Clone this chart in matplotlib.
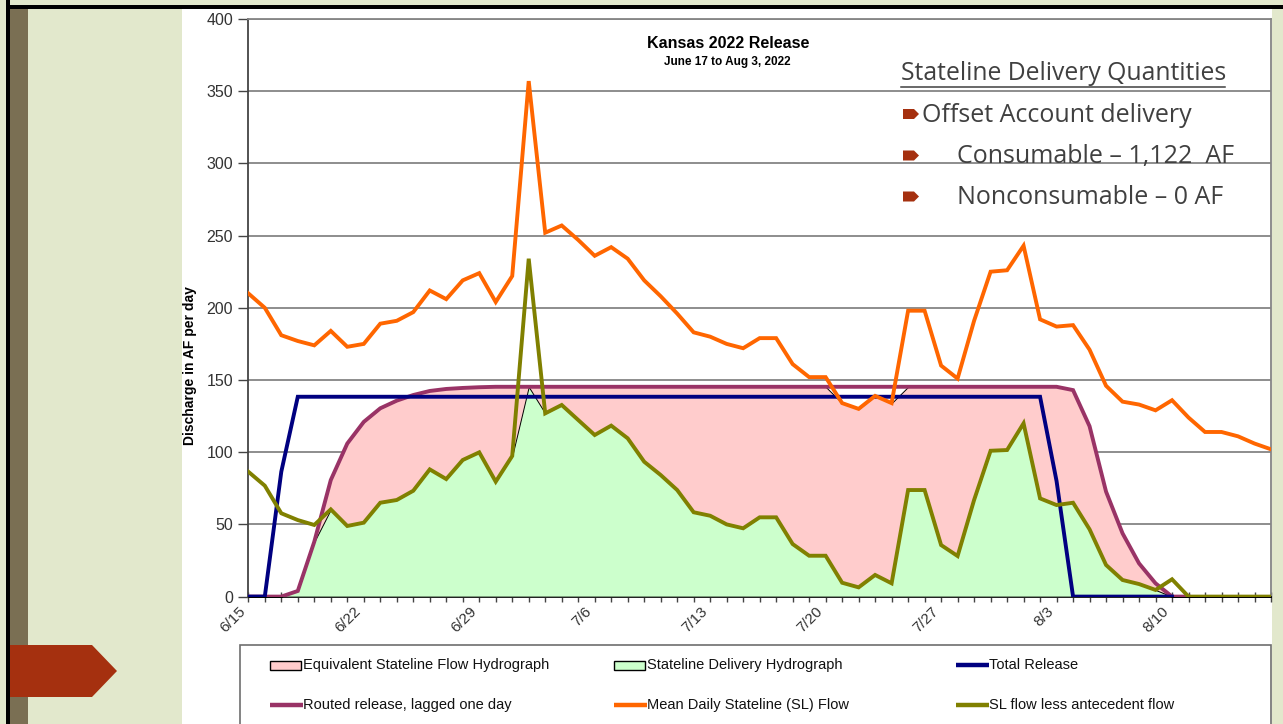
import numpy as np
import pandas as pd
import matplotlib
matplotlib.use("Agg")
import matplotlib.pyplot as plt
from matplotlib.patches import Rectangle, Polygon
from matplotlib.lines import Line2D

# ---------------- data ----------------
dates = pd.date_range("2022-06-15", "2022-08-16", freq="D")
tick_labels = [f"{d.month}/{d.day}" for d in dates[::7]]

mean_daily_sl_flow = [210, 200, 181, 177, 174, 184, 173, 175, 189, 191,
                      197, 212, 206, 219, 224, 204, 222, 357, 252, 257,
                      247, 236, 242, 234, 219, 208, 196, 183, 180, 175,
                      172, 179, 179, 161, 152, 152, 134, 130, 139, 134,
                      198, 198, 160, 151, 191, 225, 226, 243, 192, 187,
                      188, 171, 146, 135, 133, 129, 136, 124, 114, 114,
                      111, 106, 102]

sl_less_antecedent = [86.5, 76.8, 57.7, 53, 49.6, 60.4, 48.9, 51.2, 65, 66.9,
                      73.3, 88.1, 81.4, 94.6, 99.9, 79.6, 97.4, 234, 126.9, 132.7,
                      122.3, 111.9, 118.4, 109.6, 93.4, 84.2, 73.8, 58.4, 56, 50,
                      47.3, 54.9, 54.9, 36.4, 28.3, 28.3, 9.6, 6.4, 15, 9.2,
                      73.8, 73.8, 35.7, 28.1, 66.9, 101, 101.5, 120, 68, 63.4,
                      65, 46.6, 21.9, 11.5, 8.7, 4.6, 12, 0, 0, 0,
                      0, 0, 0]

nan = np.nan
total_release = [0, 0, 86.5, 138.4, 138.4, 138.4, 138.4, 138.4, 138.4, 138.4,
                 138.4, 138.4, 138.4, 138.4, 138.4, 138.4, 138.4, 138.4, 138.4, 138.4,
                 138.4, 138.4, 138.4, 138.4, 138.4, 138.4, 138.4, 138.4, 138.4, 138.4,
                 138.4, 138.4, 138.4, 138.4, 138.4, 138.4, 138.4, 138.4, 138.4, 138.4,
                 138.4, 138.4, 138.4, 138.4, 138.4, 138.4, 138.4, 138.4, 138.4, 80,
                 0, 0, 0, 0, 0, 0, 0, nan, nan, nan,
                 nan, nan, nan]

routed_release = [0, 0, 0, 3.9, 38, 80.7, 106, 121, 130.4, 135.7,
                  139.6, 142.4, 143.8, 144.5, 145, 145.3, 145.3, 145.3, 145.3, 145.3,
                  145.3, 145.3, 145.3, 145.3, 145.3, 145.3, 145.3, 145.3, 145.3, 145.3,
                  145.3, 145.3, 145.3, 145.3, 145.3, 145.3, 145.3, 145.3, 145.3, 145.3,
                  145.3, 145.3, 145.3, 145.3, 145.3, 145.3, 145.3, 145.3, 145.3, 145.3,
                  143, 118, 72.7, 43.8, 23, 9.2, 0, 0, nan, nan,
                  nan, nan, nan]

orange_v = np.array(mean_daily_sl_flow, dtype=float)
olive_v = np.array(sl_less_antecedent, dtype=float)
navy_v = np.array(total_release, dtype=float)
purple_v = np.array(routed_release, dtype=float)

equivalent_sl = np.minimum(np.nan_to_num(purple_v), orange_v)
delivery = np.minimum(olive_v, equivalent_sl)

# ---------------- figure ----------------
W, H = 1283, 724
fig = plt.figure(figsize=(W / 100, H / 100), dpi=100)
fig.patch.set_facecolor("#E2E8CC")


def fp(x, y):
    return (x / W, 1 - y / H)


def frect(x0, y0, x1, y1, **kw):
    r = Rectangle(fp(x0, y1), (x1 - x0) / W, (y1 - y0) / H,
                  transform=fig.transFigure, **kw)
    fig.patches.append(r)
    return r


# slide decorations (below the axes)
frect(6, 0, 10, H, facecolor="black", edgecolor="none", zorder=-5)
frect(6, 5, W, 8.5, facecolor="black", edgecolor="none", zorder=-5)
frect(10, 8.5, 28, H, facecolor="#7A6F53", edgecolor="none", zorder=-5)
frect(182, 8.5, 1272, H, facecolor="white", edgecolor="none", zorder=-5)
fig.patches.append(Polygon([fp(10, 645), fp(92, 645), fp(117, 671), fp(92, 697), fp(10, 697)],
                           closed=True, transform=fig.transFigure,
                           facecolor="#A5300F", edgecolor="none", zorder=-4))

# ---------------- axes ----------------
x0, x1, ytop, ybot = 248.3, 1271.0, 19.0, 596.6
ax = fig.add_axes([x0 / W, 1 - ybot / H, (x1 - x0) / W, (ybot - ytop) / H])
ax.set_zorder(0)
ax.set_facecolor("white")

ax.fill_between(dates, 0, equivalent_sl, facecolor="#FFCCCC", edgecolor="black",
                linewidth=0.7, zorder=2)
ax.fill_between(dates, 0, delivery, facecolor="#CCFFCC", edgecolor="black",
                linewidth=0.7, zorder=3)

lw = 2.8
ax.plot(dates, purple_v, color="#993366", lw=lw, zorder=4, solid_joinstyle="miter")
ax.plot(dates, navy_v, color="#000080", lw=lw, zorder=5, solid_joinstyle="miter")
ax.plot(dates, orange_v, color="#FF6600", lw=lw, zorder=6, solid_joinstyle="miter")
ax.plot(dates, olive_v, color="#808000", lw=lw, zorder=7, solid_joinstyle="miter")

ax.set_xlim(dates[0], dates[-1])
ax.set_ylim(0, 400)
ax.set_yticks(np.arange(0, 401, 50))
ax.yaxis.grid(True, color="#858585", lw=1.3, zorder=1)
ax.set_axisbelow(True)

ax.set_xticks(dates[::7])
ax.set_xticklabels(tick_labels, rotation=45, ha="right", va="top",
                   fontsize=11, family="Liberation Sans", color="#333333")
ax.set_xticks(dates, minor=True)
ax.tick_params(axis="x", which="both", direction="inout", length=7, width=1,
               color="#444444", pad=2)
ax.tick_params(axis="y", direction="out", length=7, width=1, color="#444444",
               labelsize=11.5, labelcolor="#333333", pad=4)
for lab in ax.get_yticklabels():
    lab.set_family("Liberation Sans")

for s in ["left", "bottom"]:
    ax.spines[s].set_color("#444444")
    ax.spines[s].set_linewidth(1.3)
for s in ["top", "right"]:
    ax.spines[s].set_color("#858585")
    ax.spines[s].set_linewidth(1.3)

fig.text(*fp(190, 366), "Discharge in AF per day", rotation=90, ha="center", va="center",
         fontsize=10, fontweight="bold", family="Liberation Sans", zorder=3)

# titles
fig.text(*fp(728, 48.3), "Kansas 2022 Release", ha="center", va="baseline",
         fontsize=11.5, fontweight="bold", family="Liberation Sans", zorder=3)
fig.text(*fp(727, 65), "June 17 to Aug 3, 2022", ha="center", va="baseline",
         fontsize=8.5, fontweight="bold", family="Liberation Sans", zorder=3)

# slide text
tcol = "#404040"
sfont = ["Open Sans", "DejaVu Sans"]
fig.text(*fp(901, 80), "Stateline Delivery Quantities", ha="left", va="baseline",
         fontsize=17.8, color=tcol, family=sfont, zorder=3)
fig.lines.append(Line2D([901 / W, 1225 / W], [1 - 86.5 / H, 1 - 86.5 / H],
                        transform=fig.transFigure, color=tcol, lw=1.1, zorder=3))
rows = [("Offset Account delivery", 922, 121.5),
        ("Consumable \u2013 1,122  AF", 957, 163),
        ("Nonconsumable \u2013 0 AF", 957, 204)]
for txt, tx, by in rows:
    cy = by - 7.5
    fig.patches.append(Polygon([fp(903, cy - 5), fp(914, cy - 5), fp(919, cy),
                                fp(914, cy + 5), fp(903, cy + 5)], closed=True,
                               transform=fig.transFigure, facecolor="#A5300F",
                               edgecolor="none", zorder=3))
    fig.text(*fp(tx, by), txt, ha="left", va="baseline", fontsize=18, color=tcol,
             family=sfont, zorder=3)

# ---------------- legend ----------------
frect(240, 645, 1271, 740, facecolor="white", edgecolor="#6E6E6E", linewidth=1.2, zorder=2)
lfont = ["Liberation Sans Narrow", "Liberation Sans"]
legend_items = [
    ("patch", "#FFCCCC", "Equivalent Stateline Flow Hydrograph", 270, 665),
    ("patch", "#CCFFCC", "Stateline Delivery Hydrograph", 614, 665),
    ("line", "#000080", "Total Release", 956, 665),
    ("line", "#993366", "Routed release, lagged one day", 270, 705),
    ("line", "#FF6600", "Mean Daily Stateline (SL) Flow", 614, 705),
    ("line", "#808000", "SL flow less antecedent flow", 956, 705),
]
for kind, col, label, hx, hy in legend_items:
    if kind == "patch":
        frect(hx, hy - 4.5, hx + 31, hy + 4.5, facecolor=col, edgecolor="black",
              linewidth=1.0, zorder=3)
    else:
        fig.lines.append(Line2D([hx / W, (hx + 33) / W], [1 - hy / H, 1 - hy / H],
                                transform=fig.transFigure, color=col, lw=3.2,
                                solid_capstyle="butt", zorder=3))
    fig.text(*fp(hx + 33, hy), label, ha="left", va="center", fontsize=10.5,
             family=lfont, color="#111111", zorder=4)

fig.savefig("out.png", dpi=100, facecolor=fig.get_facecolor())
